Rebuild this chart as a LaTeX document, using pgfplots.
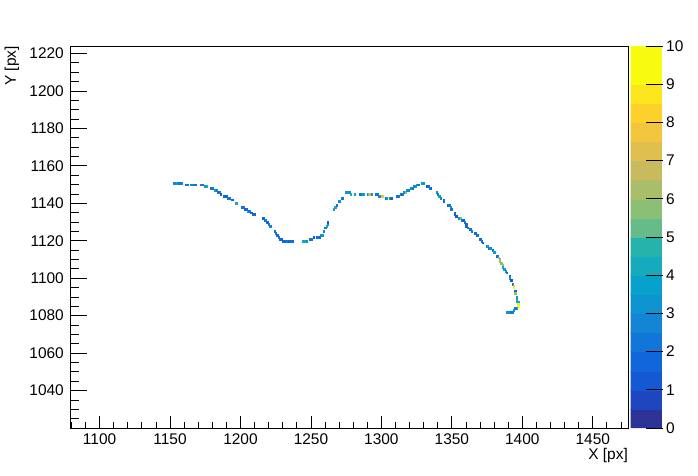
\documentclass[border=0pt]{standalone}
\usepackage{pgfplots}
\pgfplotsset{compat=1.18}
\usepackage{fontspec}
\setmainfont{Liberation Sans}

% ROOT kBird palette, 20 contour bands (last colour repeated for piecewise constant)
\pgfplotsset{
  colormap={bird}{
    rgb255=(45,50,150) rgb255=(30,70,190) rgb255=(20,88,212) rgb255=(16,102,219)
    rgb255=(18,117,216) rgb255=(19,133,213) rgb255=(13,147,208) rgb255=(7,162,203)
    rgb255=(21,171,188) rgb255=(38,179,172) rgb255=(65,185,155) rgb255=(102,188,136)
    rgb255=(139,191,117) rgb255=(170,189,105) rgb255=(201,187,93) rgb255=(223,191,77)
    rgb255=(242,197,60) rgb255=(253,208,44) rgb255=(251,230,29) rgb255=(249,251,14)
    rgb255=(249,251,14)
  },
  tick label style={font=\fontsize{15.5}{18}\selectfont},
  /pgf/number format/assume math mode=true,
  /pgf/number format/1000 sep={},
}

\begin{document}
\begin{tikzpicture}
\path[use as bounding box] (-70bp,-48bp) rectangle (628bp,428bp);
\begin{axis}[
  scale only axis, width=558bp, height=382bp,
  xmin=1079, xmax=1475, ymin=1020, ymax=1224,
  xtick={1100,1150,...,1450}, ytick={1040,1060,...,1220},
  minor xtick={1080,1090,...,1470}, minor ytick={1025,1030,...,1220},
  xtick pos=lower, ytick pos=left, tick align=inside,
  major tick length=17bp, minor tick length=9bp,
  xtick style={/pgfplots/major tick length=12bp, /pgfplots/minor tick length=6bp},
  every tick/.style={black, line width=0.8bp},
  axis line style={line width=0.8bp},
  xticklabel style={anchor=north, inner sep=0pt, yshift=-6bp},
  yticklabel style={anchor=east, inner sep=0pt, xshift=-6bp},
  xlabel={X [px]}, ylabel={Y [px]},
  every axis x label/.style={at={(rel axis cs:1,-0.083)}, anchor=base east,
    inner sep=0pt, font=\fontsize{15.5}{18}\selectfont},
  every axis y label/.style={at={(rel axis cs:-0.0968,1)}, rotate=90, anchor=base east,
    inner sep=0pt, font=\fontsize{15.5}{18}\selectfont},
  colormap name=bird,
  colormap access=piecewise constant,
  point meta min=0, point meta max=10,
  colorbar sampled,
  colorbar/width=32bp,
  colorbar style={
    samples=21,
    height=382bp,
    at={(parent axis.north east)}, anchor=north west, xshift=-6bp,
    ytick={0,1,...,10}, ytick pos=right, yticklabel pos=right,
    major tick length=17bp, tick align=inside,
    every tick/.style={black, line width=0.8bp},
    axis line style={draw=none},
    yticklabel style={anchor=west, inner sep=0pt, xshift=3.5bp},
  },
]
\addplot[scatter, only marks, mark=square*, point meta=explicit,
  mark size=0.94bp, mark options={xscale=0.75, line width=0.2bp},
  scatter/use mapped color={draw=mapped color, fill=mapped color}]
coordinates {
(1153,1151) [2.5] (1155,1151) [3.5] (1156,1151) [2] (1157,1151) [2] (1158,1151) [2.5]
(1161,1150) [2] (1162,1150) [2] (1165,1150) [2.5] (1167,1150) [2] (1168,1150) [2]
(1172,1150) [2.5] (1173,1150) [2] (1175,1149) [3.5] (1176,1149) [4]
(1179,1148) [2] (1180,1148) [2] (1182,1147) [3.5] (1183,1147) [2.5]
(1184,1146) [2] (1185,1146) [2] (1186,1145) [1.5]
(1188,1144) [1.5] (1189,1144) [1.5] (1190,1144) [1.5] (1191,1143) [2] (1192,1143) [2]
(1194,1142) [1.5] (1197,1140) [4]
(1201,1138) [2] (1202,1138) [2] (1203,1137) [1.5] (1204,1137) [1.5]
(1205,1136) [3.5] (1206,1136) [2] (1207,1135) [1.5] (1208,1135) [1.5]
(1209,1134) [1.5] (1210,1134) [1.5]
(1216,1132) [1.5] (1217,1131) [1.5] (1218,1131) [2.5] (1219,1130) [1.5]
(1220,1129) [2] (1221,1128) [2.5]
(1224,1125) [2] (1225,1124) [2] (1226,1123) [1.5] (1227,1122) [2]
(1228,1121) [1.5] (1229,1121) [1.5]
(1230,1120) [1.5] (1231,1120) [1.5] (1232,1120) [1.5] (1233,1120) [2] (1234,1120) [1.5]
(1235,1120) [1.5] (1236,1120) [2] (1237,1120) [1.5]
(1244,1120) [3.5] (1245,1120) [4] (1247,1120) [3]
(1249,1121) [2] (1250,1121) [2] (1252,1122) [1] (1254,1122) [1.5] (1255,1122) [2] (1256,1122) [1.5]
(1257,1123) [3] (1258,1123) [3] (1259,1125) [2.5] (1260,1127) [2] (1261,1128) [4]
(1262,1129) [3] (1262,1130) [1]
(1266,1137) [3.5] (1267,1138) [4] (1268,1139) [2] (1270,1141) [3] (1272,1143) [2]
(1275,1146) [3] (1276,1146) [3.5] (1277,1146) [2.5] (1278,1145) [4] (1281,1145) [3.5]
(1285,1145) [2] (1287,1145) [3.5] (1290,1145) [3] (1291,1145) [6] (1292,1145) [7]
(1293,1145) [3] (1296,1145) [2] (1297,1145) [2]
(1298,1144) [2.5] (1299,1144) [3] (1300,1144) [7.5] (1301,1144) [8]
(1303,1143) [1.5] (1304,1143) [3.5] (1305,1143) [9.5] (1306,1143) [4] (1307,1143) [1.5]
(1311,1144) [2] (1312,1144) [2] (1314,1145) [2] (1315,1145) [2]
(1316,1146) [3] (1317,1146) [6] (1318,1147) [3] (1319,1147) [2.5]
(1321,1148) [3] (1322,1148) [2] (1323,1149) [2.5] (1324,1149) [3]
(1325,1150) [3.5] (1326,1150) [2] (1329,1151) [3.5] (1330,1151) [3]
(1332,1149) [1.5] (1333,1149) [1.5] (1334,1148) [2.5] (1335,1148) [1.5]
(1339,1146) [3] (1340,1145) [2] (1341,1144) [3.5] (1342,1143) [2.5]
(1344,1142) [1.5] (1344,1141) [1.5]
(1347,1139) [1.5] (1348,1139) [2] (1349,1138) [3] (1349,1137) [2] (1350,1137) [2]
(1352,1135) [1.5] (1352,1134) [1.5] (1353,1133) [1]
(1355,1132) [3] (1356,1132) [6] (1357,1131) [2] (1358,1131) [1.5]
(1359,1130) [2] (1360,1129) [1.5] (1360,1128) [1.5] (1361,1127) [2]
(1363,1126) [2] (1364,1125) [2] (1366,1124) [2] (1367,1124) [1.5] (1368,1123) [2]
(1370,1121) [1.5] (1371,1120) [2] (1372,1119) [1.5]
(1375,1117) [3.5] (1376,1116) [2] (1377,1116) [3] (1379,1115) [2] (1380,1114) [3.5]
(1382,1112) [2] (1383,1111) [6.5] (1384,1110) [6] (1384,1109) [6.5]
(1385,1108) [6] (1386,1107) [6.5] (1386,1106) [4] (1387,1105) [3.5] (1388,1104) [3]
(1389,1103) [2] (1391,1101) [2] (1391,1100) [3] (1392,1099) [1]
(1393,1097) [2] (1394,1096) [8] (1394,1095) [9.5] (1395,1093) [1.5] (1395,1092) [6]
(1396,1090) [3.5] (1396,1089) [3.5] (1396,1088) [4] (1397,1087) [4]
(1397,1086) [9] (1397,1085) [9.5] (1396,1084) [4] (1395,1084) [2]
(1394,1083) [3] (1393,1082) [3] (1392,1082) [2] (1391,1082) [2]
(1390,1082) [3] (1389,1082) [3]
};
\end{axis}
\end{tikzpicture}
\end{document}
